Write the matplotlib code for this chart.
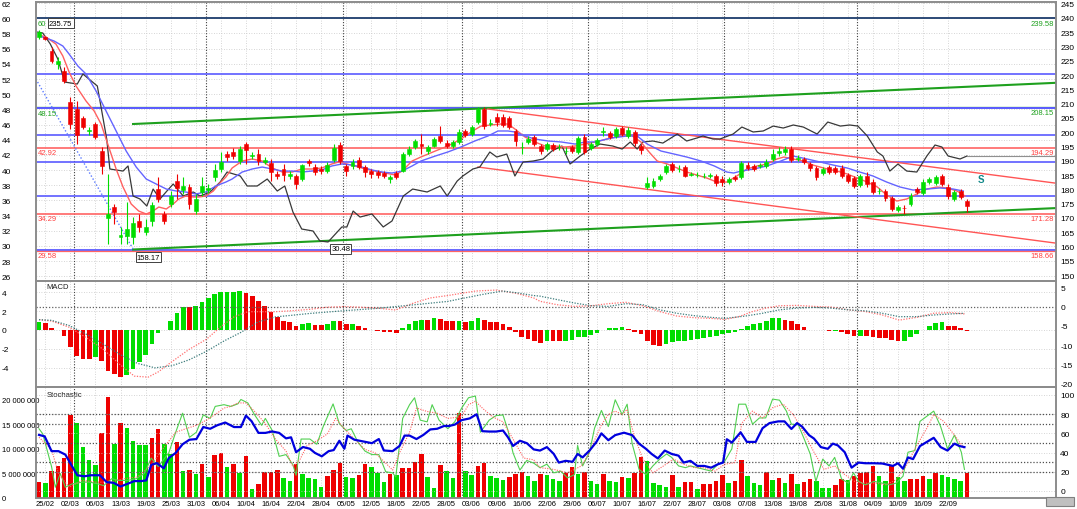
import matplotlib
matplotlib.use('Agg')
import matplotlib.pyplot as plt
import numpy as np

plt.rcParams['font.family'] = ['Liberation Sans', 'DejaVu Sans']

# ---- price candles (left axis units) ----
opens = [57.54, 57.54, 55.69, 53.98, 53.05, 48.97, 48.05, 46.86, 45.15, 46.07,
         42.51, 33.68, 35.13, 31.18, 31.31, 31.18, 33.29, 31.84, 33.29, 37.50,
         34.21, 35.53, 38.56, 37.37, 37.77, 34.60, 37.11, 37.37, 39.08, 40.14,
         42.11, 42.38, 41.19, 43.43, 41.90, 42.11, 41.06, 40.93, 39.48, 40.14,
         39.22, 39.22, 38.82, 41.19, 40.40, 40.14, 39.87, 41.33, 43.30, 40.54,
         40.54, 41.33, 40.40, 39.87, 39.74, 39.61, 38.82, 39.61, 39.87, 42.11,
         43.04, 43.43, 42.51, 43.17, 44.49, 43.56, 43.17, 43.70, 45.15, 44.75,
         46.33, 48.05, 46.10, 46.99, 46.99, 46.86, 45.15, 43.00, 43.70, 44.36,
         43.17, 42.77, 43.30, 43.00, 42.45, 43.04, 42.38, 44.36, 42.91, 43.43,
         45.00, 44.88, 44.49, 45.54, 44.49, 45.02, 43.17, 37.77, 37.90, 38.82,
         39.74, 40.80, 40.10, 40.40, 39.40, 39.30, 39.17, 39.20, 39.22, 38.82,
         38.42, 39.08, 39.08, 40.67, 40.54, 40.54, 40.54, 41.46, 42.25, 42.38,
         42.77, 41.50, 41.46, 40.80, 40.27, 39.61, 40.40, 40.27, 40.27, 39.35,
         38.95, 38.03, 39.22, 38.42, 37.20, 37.24, 36.32, 34.74, 35.05, 35.53,
         37.50, 36.98, 38.42, 38.29, 39.22, 37.77, 36.19, 37.24, 35.92]
highs = [58.46, 57.70, 56.22, 54.90, 53.58, 49.63, 49.10, 47.10, 45.67, 46.40,
         43.04, 39.48, 35.53, 32.50, 35.79, 33.81, 34.21, 33.55, 35.79, 39.08,
         34.60, 37.24, 39.48, 39.08, 38.16, 36.85, 39.08, 38.20, 40.80, 42.38,
         42.51, 42.90, 43.17, 43.70, 42.38, 42.77, 41.70, 41.46, 39.87, 40.80,
         39.87, 39.48, 40.80, 41.46, 40.80, 40.50, 41.00, 43.43, 43.70, 40.80,
         41.40, 41.72, 40.67, 40.10, 40.00, 39.90, 39.35, 39.90, 42.38, 43.17,
         44.09, 44.75, 43.30, 44.36, 45.80, 43.90, 44.00, 45.41, 45.41, 45.94,
         48.31, 48.31, 46.73, 47.52, 47.40, 47.10, 45.41, 43.70, 44.49, 44.60,
         43.43, 43.70, 43.60, 43.40, 43.00, 43.30, 44.49, 44.75, 43.70, 44.20,
         45.67, 45.10, 45.70, 45.80, 45.67, 45.28, 43.43, 39.08, 38.90, 39.50,
         40.80, 41.06, 40.67, 40.67, 39.80, 39.70, 39.60, 39.60, 39.48, 39.22,
         39.10, 39.35, 41.19, 41.06, 40.80, 40.90, 41.46, 42.77, 43.04, 43.17,
         43.17, 42.00, 41.70, 41.06, 40.54, 40.40, 40.67, 40.54, 40.67, 39.60,
         39.22, 39.48, 39.74, 38.82, 37.64, 37.50, 36.58, 35.40, 35.39, 36.98,
         37.80, 38.82, 39.10, 39.35, 39.50, 38.16, 37.40, 37.50, 36.19]
lows = [57.27, 57.10, 54.11, 53.32, 51.47, 45.41, 43.43, 45.41, 44.62, 44.10,
        39.48, 30.25, 32.89, 30.25, 30.25, 30.25, 31.84, 31.44, 32.63, 35.79,
        32.89, 35.13, 36.19, 36.85, 34.87, 34.21, 36.58, 37.00, 38.56, 39.74,
        41.19, 41.50, 40.80, 40.80, 41.46, 40.67, 40.80, 38.56, 38.82, 38.56,
        38.82, 37.50, 38.56, 40.54, 39.40, 39.50, 39.60, 41.06, 40.80, 39.22,
        40.20, 40.14, 39.08, 39.00, 39.00, 38.90, 38.29, 38.80, 39.74, 41.85,
        42.77, 42.11, 42.11, 43.04, 43.56, 42.90, 42.90, 43.43, 44.36, 44.49,
        46.07, 45.41, 45.80, 45.80, 45.70, 45.40, 43.17, 42.11, 43.43, 43.20,
        42.11, 42.50, 42.50, 42.70, 42.10, 42.20, 42.11, 42.11, 42.60, 43.20,
        44.49, 44.10, 44.20, 44.49, 44.22, 43.17, 42.11, 37.50, 37.60, 38.60,
        39.48, 39.74, 39.74, 39.08, 39.20, 39.10, 38.90, 38.90, 37.90, 37.90,
        38.20, 38.60, 38.82, 40.01, 39.90, 40.30, 40.27, 41.19, 41.85, 41.98,
        41.06, 41.20, 40.80, 39.87, 38.69, 39.35, 39.48, 39.48, 38.95, 38.30,
        37.64, 37.77, 37.77, 36.85, 36.85, 35.92, 34.60, 34.50, 34.21, 35.26,
        36.80, 36.71, 38.20, 38.00, 37.90, 36.19, 35.90, 36.19, 34.47]
closes = [58.19, 57.27, 54.37, 54.37, 51.74, 46.07, 44.62, 45.67, 45.28, 44.36,
          40.54, 34.21, 34.47, 31.44, 32.23, 33.02, 32.50, 32.50, 35.39, 36.19,
          33.29, 36.58, 37.64, 37.90, 35.53, 36.19, 37.90, 37.60, 40.01, 41.06,
          41.72, 41.85, 42.77, 42.64, 42.00, 41.19, 41.33, 39.74, 39.22, 39.35,
          39.48, 38.16, 40.67, 40.93, 39.74, 39.87, 40.67, 42.91, 41.19, 39.87,
          41.06, 40.40, 39.74, 39.48, 39.35, 39.22, 39.08, 39.08, 42.11, 42.77,
          43.83, 43.17, 43.04, 44.09, 43.83, 43.17, 43.70, 45.02, 44.62, 45.67,
          48.05, 45.80, 46.20, 46.33, 45.94, 45.67, 43.83, 43.10, 44.09, 43.43,
          42.51, 43.43, 42.77, 43.10, 42.55, 42.51, 44.22, 42.38, 43.43, 43.96,
          45.10, 44.36, 45.41, 44.75, 45.28, 43.56, 42.64, 38.29, 38.56, 39.22,
          40.54, 40.01, 40.20, 39.22, 39.50, 39.40, 39.27, 39.30, 38.29, 38.42,
          38.82, 38.82, 40.93, 40.27, 40.14, 40.67, 41.06, 42.11, 42.51, 42.77,
          41.33, 41.60, 41.06, 40.27, 39.08, 40.14, 39.74, 39.74, 39.22, 38.56,
          37.90, 39.22, 38.16, 37.11, 37.30, 36.32, 34.87, 35.13, 34.95, 36.58,
          37.11, 38.42, 38.82, 39.08, 38.16, 36.58, 37.11, 36.45, 35.26]

# moving averages and comparison line (bar position, left-axis value)
ma_fast = [(0, 57.80), (1.1, 57.54), (2.7, 56.61), (3.8, 55.03), (4.8, 52.92), (5.9, 51.08),
           (7.5, 49.10), (8.8, 47.78), (9.9, 46.07), (10.8, 43.83), (11.5, 42.11), (12.3, 40.14),
           (13.4, 37.77), (14.7, 35.53), (15.9, 34.60), (17.1, 34.21), (18.2, 34.60), (19.1, 35.13),
           (20.3, 34.87), (21.4, 35.53), (22.3, 36.19), (23.4, 36.58), (24.6, 36.45), (25.5, 36.45),
           (26.6, 36.58), (27.8, 37.24), (28.7, 38.16), (29.8, 39.08), (30.8, 40.27), (32.4, 41.19),
           (34.0, 41.46), (35.6, 41.19), (37.2, 40.27), (38.8, 39.74), (40.4, 39.74), (41.9, 40.14),
           (43.5, 40.14), (45.1, 40.27), (46.7, 40.80), (47.8, 41.06), (49.1, 40.80), (50.4, 40.54),
           (52.0, 40.14), (53.6, 39.87), (55.2, 39.61), (56.8, 39.35), (57.9, 39.87), (59.5, 41.19),
           (60.9, 41.72), (63.2, 42.51), (65.2, 43.17), (67.3, 44.09), (68.9, 45.02), (70.5, 45.80),
           (72.1, 45.94), (73.7, 46.07), (74.8, 46.07), (75.9, 45.41), (77.5, 44.36), (79.1, 43.70),
           (80.7, 43.17), (82.3, 43.17), (83.9, 43.04), (85.5, 43.17), (87.1, 43.43), (88.7, 43.70),
           (90.6, 44.09), (92.8, 44.49), (94.4, 44.62), (96.0, 43.70), (97.3, 42.38), (98.6, 41.19),
           (100.2, 40.80), (101.8, 40.27), (103.3, 39.74), (104.9, 39.35), (106.5, 38.95), (108.1, 38.42),
           (109.7, 38.42), (111.3, 39.22), (112.9, 40.14), (114.5, 40.54), (116.1, 40.80), (117.7, 41.46),
           (118.8, 41.72), (120.3, 41.46), (121.9, 41.19), (123.4, 40.67), (125.7, 40.14), (127.3, 39.87),
           (128.9, 39.48), (130.5, 38.95), (132.1, 38.42), (133.7, 37.77), (135.2, 36.71), (136.8, 35.92),
           (138.4, 36.19), (140.0, 36.85), (141.6, 37.50), (143.2, 37.77), (144.8, 37.64), (146.4, 37.24),
           (147.7, 36.58)]
ma_slow = [(0, 57.67), (1.1, 57.40), (2.4, 57.01), (3.8, 56.35), (4.8, 55.29), (6.2, 53.71),
           (7.5, 52.66), (9.1, 50.42), (10.7, 47.78), (12.3, 45.15), (13.9, 42.51), (15.5, 40.40),
           (17.1, 38.82), (18.7, 38.16), (20.3, 37.50), (21.9, 37.24), (23.4, 37.11), (25.0, 36.85),
           (26.6, 37.11), (28.2, 37.90), (29.8, 38.42), (30.8, 38.82), (32.4, 39.74), (34.0, 40.14),
           (35.6, 40.40), (37.2, 40.14), (38.8, 39.87), (40.4, 39.87), (41.9, 39.74), (43.5, 39.87),
           (45.1, 40.01), (46.7, 40.54), (48.3, 40.80), (49.9, 40.67), (51.5, 40.40), (53.1, 40.01),
           (54.7, 39.74), (56.3, 39.61), (57.9, 39.87), (59.5, 40.54), (60.9, 41.19), (63.2, 41.85),
           (65.2, 42.38), (67.3, 43.04), (69.5, 43.83), (71.6, 44.49), (73.2, 45.15), (74.8, 45.15),
           (75.9, 45.02), (77.5, 44.49), (79.1, 44.09), (81.2, 43.83), (83.3, 43.70), (85.5, 43.43),
           (87.1, 43.70), (88.7, 43.70), (91.2, 44.22), (93.8, 44.49), (95.4, 44.49), (97.0, 43.43),
           (99.2, 42.51), (101.3, 42.11), (103.3, 41.72), (105.6, 41.19), (107.7, 40.54), (109.7, 39.74),
           (110.8, 39.61), (112.0, 39.87), (114.0, 40.14), (116.1, 40.54), (118.3, 41.19), (120.3, 41.85),
           (122.5, 41.46), (124.6, 41.06), (126.6, 40.67), (128.9, 40.27), (130.9, 39.74), (133.0, 39.22),
           (135.2, 38.42), (137.3, 37.77), (139.4, 37.37), (141.6, 37.50), (143.7, 37.64), (145.8, 37.50),
           (147.4, 37.24)]
compare_line = [(-0.2, 58.19), (0.6, 58.06), (1.8, 56.61), (3.0, 54.64), (4.1, 51.60), (6.1, 51.34),
                (7.0, 52.66), (9.3, 51.08), (10.8, 44.09), (11.3, 40.14), (13.4, 39.87), (14.2, 40.54),
                (15.0, 36.58), (16.1, 36.19), (17.2, 35.26), (18.2, 37.50), (19.3, 36.19), (20.4, 37.24),
                (21.4, 38.16), (23.0, 36.58), (24.6, 37.11), (25.7, 36.58), (27.3, 37.11), (28.9, 38.43),
                (30.0, 39.74), (32.1, 39.22), (33.2, 37.90), (34.8, 37.90), (36.4, 38.82), (38.0, 37.24),
                (39.2, 37.90), (40.5, 34.47), (41.9, 32.23), (43.7, 31.97), (44.8, 30.65), (46.1, 30.52),
                (48.3, 32.50), (49.1, 32.50), (50.1, 34.60), (51.2, 33.81), (53.1, 34.21), (54.9, 32.50),
                (56.3, 33.29), (58.1, 36.58), (59.6, 37.50), (61.9, 37.11), (64.0, 37.90), (65.1, 36.58),
                (66.7, 38.56), (67.6, 39.22), (69.2, 40.14), (70.3, 40.40), (71.9, 42.38), (73.0, 41.72),
                (74.6, 42.11), (75.9, 39.22), (77.2, 41.06), (78.8, 41.19), (80.4, 41.46), (81.8, 42.51),
                (83.4, 43.17), (84.7, 40.80), (86.3, 41.85), (87.9, 42.77), (89.5, 43.43), (91.5, 43.17),
                (93.0, 42.77), (94.3, 43.70), (95.4, 42.77), (96.3, 43.70), (97.9, 43.83), (99.5, 43.56),
                (101.8, 44.75), (103.3, 43.83), (104.9, 44.22), (105.9, 44.49), (107.5, 44.09), (108.6, 44.09),
                (110.7, 44.75), (112.1, 45.67), (113.9, 45.02), (115.5, 45.15), (117.1, 45.80), (118.7, 45.54),
                (120.3, 45.94), (121.9, 45.67), (124.1, 44.75), (125.8, 46.33), (127.8, 45.80), (129.3, 45.94),
                (130.6, 45.80), (132.1, 44.49), (133.7, 42.38), (134.6, 41.85), (135.7, 39.87), (137.0, 40.80),
                (138.4, 39.87), (140.0, 39.74), (141.6, 41.85), (142.9, 43.30), (144.0, 43.04), (145.0, 41.85),
                (146.9, 41.46), (148.0, 41.85)]

# horizontal levels and trend lines
blue_levels = [52.70, 44.62, 41.06, 36.54]
red_levels = [42.88, 34.20]
top_level = 59.98
green_level = 48.17
bottom_level = 29.40
green_trends = [((15.0, 46.07), (162.2, 51.50)), ((15.0, 29.53), (162.2, 34.99))]
red_trends = [((71.6, 48.05), (162.2, 38.27)), ((70.0, 40.40), (162.2, 30.37))]
blue_dotted = ((-0.5, 52.00), (15.0, 29.60))

# ---- MACD ----
macd_hist = [0.84, 0.73, 0.25, 0.0, -0.62, -1.82, -2.73, -3.02, -3.02, -2.91,
             -3.27, -4.36, -4.62, -5.02, -4.73, -4.11, -3.38, -2.65, -1.45, -0.36,
             0.0, 0.91, 1.82, 2.44, 2.44, 2.55, 2.91, 3.38, 3.82, 4.0,
             4.0, 4.04, 4.07, 3.93, 3.56, 3.09, 2.55, 1.89, 1.35, 0.98,
             0.8, 0.44, 0.62, 0.73, 0.55, 0.55, 0.62, 0.98, 0.91, 0.62,
             0.62, 0.44, 0.18, 0.0, -0.07, -0.18, -0.25, -0.36, 0.18, 0.62,
             0.98, 1.02, 1.09, 1.24, 1.16, 0.91, 0.91, 0.91, 0.84, 0.91,
             1.27, 1.02, 0.84, 0.84, 0.65, 0.36, -0.18, -0.73, -0.91, -1.2,
             -1.38, -1.2, -1.2, -1.2, -1.2, -1.09, -0.72, -0.72, -0.55, -0.36,
             0.05, 0.18, 0.25, 0.3, 0.1, -0.25, -0.45, -1.2, -1.63, -1.74,
             -1.45, -1.27, -1.16, -1.16, -1.09, -0.98, -0.83, -0.72, -0.62, -0.47,
             -0.36, -0.18, 0.11, 0.43, 0.62, 0.72, 0.98, 1.27, 1.27, 1.09,
             0.91, 0.65, 0.36, 0.0, 0.0, -0.05, -0.1, -0.1, -0.25, -0.47,
             -0.65, -0.65, -0.65, -0.72, -0.8, -0.83, -1.09, -1.2, -1.2, -0.72,
             -0.47, 0.05, 0.43, 0.72, 0.8, 0.43, 0.43, 0.18, -0.1]
macd_colors = ("GRRRRRRRRG" "RRRRGGGGGG" "GGGGRGGGGG" "GGGRRRRRRR" "RRGGRRGGRR"
               "GRRRRRRRGG" "GGRGRRRGRG" "GRRRRRRRRR" "RGRRGGGGGG" "GGGGRRRRRR"
               "GGGGGGGGGG" "GGGGGGGGGR" "RRRRRGRGRR" "RGRRRRRRGG" "GGGGGRRRR")
macd_line = [(0.0, -3.35), (2.0, -3.71), (4.8, -5.32), (7.5, -8.01), (10.3, -11.15), (13.0, -15.19),
             (15.2, -18.07), (17.4, -18.34), (19.0, -16.99), (21.2, -14.30), (23.9, -11.15), (26.7, -8.46),
             (28.9, -5.32), (31.1, -2.63), (33.3, -1.28), (35.5, -1.28), (37.7, -1.28), (40.5, -1.01),
             (43.2, -0.65), (45.9, -0.11), (48.7, 0.07), (51.4, -0.11), (54.2, -0.38), (56.9, -0.83),
             (59.7, 0.96), (62.4, 2.31), (65.2, 2.94), (69.6, 4.11), (72.9, 4.37), (76.2, 3.48),
             (78.9, 2.31), (79.9, 1.44), (82.6, 0.55), (85.4, 0.10), (88.1, 0.28), (90.8, 0.82),
             (93.6, 1.18), (96.3, 0.28), (99.0, -1.24), (101.7, -2.40), (104.5, -2.84), (107.2, -3.02),
             (109.4, -3.29), (111.6, -2.57), (113.8, -1.24), (115.9, -0.34), (118.1, 0.28), (120.9, 0.37),
             (123.6, 0.10), (126.3, -0.07), (129.1, -0.79), (131.8, -1.24), (134.5, -2.13), (137.2, -3.47),
             (140.0, -2.75), (142.7, -1.68), (145.4, -1.50), (147.6, -1.86)]
signal_line = [(0.0, -3.35), (2.0, -3.53), (4.8, -4.87), (7.5, -7.12), (10.3, -9.81), (13.0, -12.50),
               (15.7, -14.75), (18.5, -15.91), (21.2, -15.37), (23.9, -13.85), (26.7, -11.60), (29.5, -8.91),
               (32.2, -6.67), (34.9, -3.97), (37.7, -2.63), (40.5, -2.18), (43.2, -1.73), (48.7, -1.01),
               (54.2, -0.38), (56.9, 0.07), (59.7, 0.51), (65.2, 1.41), (67.9, 2.31), (70.7, 3.21),
               (73.9, 4.11), (76.2, 3.66), (78.9, 2.94), (79.9, 2.78), (82.6, 1.89), (85.4, 0.99),
               (88.1, 0.28), (90.8, 0.10), (93.6, 0.82), (96.3, 0.55), (99.0, -0.79), (101.7, -1.68),
               (104.5, -2.31), (107.2, -2.75), (109.4, -3.02), (112.7, -2.40), (115.4, -1.68), (118.1, -0.79),
               (120.9, -0.34), (123.6, -0.16), (126.3, -0.34), (129.1, -0.79), (131.8, -1.06), (134.5, -1.68),
               (137.2, -2.57), (140.0, -2.57), (142.7, -2.13), (145.4, -1.86), (147.6, -1.68)]

# ---- volume (millions) and stochastic ----
volume = [3.3, 3.0, 5.4, 6.4, 8.2, 16.8, 15.2, 10.4, 7.8, 6.6,
          13.2, 20.4, 11.0, 15.2, 14.3, 11.5, 10.8, 10.7, 12.2, 14.0,
          10.9, 9.0, 11.4, 5.5, 5.6, 4.8, 7.0, 4.2, 8.8, 9.2,
          6.2, 6.8, 5.0, 8.5, 1.8, 2.9, 5.2, 5.3, 5.7, 4.0,
          3.5, 6.8, 4.8, 4.1, 3.8, 2.3, 4.4, 5.7, 7.2, 4.3,
          4.0, 4.6, 6.8, 6.3, 5.0, 3.3, 4.9, 4.7, 6.0, 6.0,
          7.4, 9.0, 4.3, 2.1, 6.6, 5.5, 4.1, 17.2, 5.5, 4.6,
          6.5, 7.1, 4.5, 4.1, 3.7, 4.2, 4.8, 5.3, 4.4, 3.5,
          4.8, 4.6, 3.9, 3.4, 5.0, 6.2, 4.8, 5.3, 3.5, 2.8,
          4.8, 3.5, 3.2, 4.2, 4.0, 5.1, 8.4, 7.5, 3.0, 2.6,
          2.3, 4.6, 2.3, 3.2, 3.2, 1.8, 2.8, 2.9, 3.4, 4.6,
          3.0, 3.4, 7.7, 4.4, 3.0, 2.6, 5.3, 3.7, 4.0, 3.1,
          4.8, 2.9, 3.3, 3.9, 3.4, 2.1, 2.1, 2.7, 3.9, 3.6,
          4.4, 5.0, 5.3, 6.4, 4.4, 3.5, 6.5, 4.3, 3.4, 3.9,
          3.9, 4.4, 3.9, 5.1, 4.6, 4.3, 3.9, 3.4, 5.1]
volume_colors = ("RGRRRRGGGG" "RRGRGGGGRR" "GGRGRGRGRR" "GRGRGRRRRG" "GRGGGGRRRG"
                 "GRRGGGRGRR" "RRGGRGGRGG" "RRGGGRRRGG" "RGGGRRGRGG" "RGGRGRRGGG"
                 "GRGRRGRRRR" "GRRGGGRGRG" "RGRRGGGRRG" "RRRRGGRGGR" "RRGRGGGGR")
stoch_slow = [(0.0, 58.4), (0.9, 56.9), (2.0, 41.5), (3.1, 41.5), (4.2, 37.9), (5.3, 25.4), (6.1, 16.4),
              (7.2, 15.3), (8.3, 16.4), (9.7, 16.4), (10.8, 9.2), (11.9, 8.5), (13.0, 4.6), (14.1, 7.4),
              (15.2, 10.3), (16.3, 10.3), (17.1, 11.0), (17.9, 27.2), (18.8, 29.0), (19.9, 23.6), (20.7, 34.3),
              (21.8, 39.7), (22.9, 48.7), (24.0, 53.4), (25.1, 54.1), (26.2, 66.6), (27.3, 64.8), (28.4, 68.4),
              (29.7, 71.3), (31.1, 66.6), (32.2, 66.6), (33.0, 78.5), (33.9, 72.7), (35.0, 60.5), (36.1, 60.5),
              (37.2, 62.0), (38.3, 60.5), (39.4, 54.8), (40.2, 55.9), (41.0, 40.4), (42.1, 45.8), (43.2, 44.0),
              (44.0, 39.7), (45.1, 36.1), (46.2, 41.5), (47.0, 42.6), (47.9, 52.3), (48.7, 44.0), (49.2, 57.7),
              (50.3, 53.4), (52.0, 51.2), (53.1, 49.8), (54.2, 54.1), (55.0, 42.2), (56.4, 41.5), (57.5, 46.9),
              (58.3, 57.7), (59.1, 57.7), (60.2, 54.1), (61.3, 58.4), (62.4, 64.1), (63.5, 64.8), (64.6, 67.7),
              (65.4, 67.7), (66.3, 69.1), (67.4, 73.8), (68.7, 75.6), (69.8, 79.9), (70.7, 62.3), (71.8, 61.9),
              (72.9, 61.9), (74.0, 63.0), (74.8, 55.9), (75.6, 46.9), (76.7, 52.3), (77.8, 49.8), (78.9, 43.3),
              (79.9, 42.1), (81.0, 45.7), (82.1, 38.6), (82.9, 29.6), (84.0, 31.4), (85.1, 30.4), (85.9, 38.6),
              (86.7, 35.0), (87.8, 42.1), (88.9, 51.1), (89.7, 60.0), (90.8, 52.9), (91.9, 58.2), (93.3, 60.7),
              (94.6, 58.2), (95.7, 49.3), (96.8, 43.9), (97.7, 38.6), (98.7, 33.9), (99.8, 42.1), (100.9, 38.6),
              (102.0, 36.8), (102.8, 29.6), (103.9, 31.4), (105.0, 26.1), (106.1, 26.1), (107.2, 24.3),
              (108.3, 27.9), (109.1, 29.6), (109.7, 53.9), (110.5, 50.4), (111.9, 61.1), (112.9, 51.1),
              (114.3, 51.1), (115.4, 65.4), (116.5, 70.7), (117.9, 72.5), (118.9, 72.5), (120.0, 64.6),
              (120.9, 70.7), (121.7, 67.1), (122.8, 58.2), (123.6, 54.6), (124.7, 45.7), (125.8, 43.9),
              (126.6, 49.3), (127.4, 47.5), (128.5, 40.4), (129.6, 24.3), (130.7, 29.6), (131.8, 28.9),
              (133.1, 28.9), (134.5, 28.6), (136.2, 26.1), (137.0, 28.9), (137.8, 23.2), (138.6, 35.0),
              (139.4, 33.2), (140.5, 46.8), (141.6, 51.1), (142.7, 55.4), (143.8, 45.7), (144.9, 42.1),
              (146.0, 49.3), (146.8, 46.8), (147.6, 45.7)]
stoch_k = [(0.0, 64.8), (0.6, 59.5), (2.0, 25.4), (2.6, 3.9), (3.4, 18.2), (4.2, 3.9), (5.3, 7.4), (6.9, 9.2),
           (8.1, 9.2), (9.4, 7.4), (10.3, 5.6), (11.6, 12.8), (12.7, 11.0), (14.1, 11.0), (15.5, 12.8),
           (16.8, 18.2), (17.9, 34.3), (19.0, 25.4), (20.7, 39.7), (21.8, 61.2), (22.9, 81.0), (24.0, 55.9),
           (25.1, 61.2), (26.2, 79.2), (27.3, 75.6), (28.1, 88.1), (29.5, 89.9), (30.6, 88.1), (31.7, 90.7),
           (32.2, 95.3), (33.3, 91.7), (34.4, 79.2), (35.5, 68.4), (36.1, 75.6), (37.2, 63.0), (38.3, 36.1),
           (39.4, 37.9), (40.5, 27.2), (41.0, 16.4), (41.8, 54.1), (43.2, 54.1), (44.3, 48.7), (45.4, 68.4),
           (46.9, 90.7), (47.9, 70.2), (49.0, 63.0), (49.8, 64.8), (50.9, 50.5), (52.0, 41.5), (53.1, 37.9),
           (54.2, 37.9), (55.3, 20.0), (56.4, 18.9), (56.9, 14.6), (58.0, 75.6), (59.1, 89.9), (59.9, 97.1),
           (60.8, 73.8), (61.9, 72.0), (62.7, 89.9), (63.8, 73.8), (65.2, 64.8), (66.3, 72.0), (67.4, 86.3),
           (68.5, 97.1), (69.6, 98.9), (70.4, 61.2), (71.8, 73.8), (72.9, 78.5), (74.0, 79.2), (74.8, 63.0),
           (75.6, 39.7), (76.7, 21.8), (77.8, 31.8), (78.9, 29.0), (79.9, 24.3), (81.0, 27.9), (82.1, 18.9),
           (83.2, 20.7), (84.3, 13.6), (85.4, 17.1), (85.9, 47.5), (86.7, 26.1), (87.8, 40.4), (88.6, 65.4),
           (89.7, 83.9), (90.8, 67.1), (91.9, 95.0), (93.0, 79.6), (93.8, 90.4), (94.6, 49.3), (95.7, 22.5),
           (96.8, 17.1), (97.9, 26.1), (99.0, 33.2), (100.1, 38.6), (100.9, 35.0), (102.0, 26.1), (103.1, 24.3),
           (103.9, 26.1), (105.0, 24.3), (106.1, 22.5), (107.2, 20.7), (108.3, 27.9), (109.4, 31.4),
           (110.5, 43.9), (111.6, 90.4), (112.7, 90.4), (113.8, 69.6), (114.9, 76.1), (115.9, 76.1),
           (117.0, 95.7), (118.1, 94.6), (119.2, 83.2), (120.0, 69.6), (121.1, 68.9), (121.9, 56.4),
           (123.0, 38.6), (123.9, 10.0), (125.0, 33.2), (126.0, 26.1), (126.9, 35.0), (128.0, 12.5),
           (129.1, 8.2), (129.9, 18.9), (130.7, 10.0), (131.8, 6.4), (133.2, 10.0), (134.5, 8.2), (135.6, 6.4),
           (136.7, 8.2), (137.8, 15.4), (138.6, 40.4), (139.7, 42.1), (140.5, 72.5), (141.6, 77.9),
           (142.7, 83.2), (143.8, 67.1), (144.9, 43.9), (146.0, 58.2), (147.1, 40.4), (147.6, 22.5)]
stoch_d = [(0.0, 55.9), (2.0, 43.3), (3.1, 18.2), (4.8, 3.9), (6.9, 11.0), (9.2, 9.2), (11.4, 9.2), (13.5, 12.8),
           (15.7, 14.6), (17.9, 27.2), (20.1, 46.9), (21.8, 61.2), (23.4, 64.8), (25.1, 68.4), (26.7, 73.8),
           (28.4, 81.0), (29.5, 86.4), (30.6, 88.1), (31.7, 91.7), (33.0, 91.7), (34.4, 82.8), (36.1, 70.2),
           (37.7, 54.1), (39.4, 41.5), (40.5, 25.4), (41.6, 32.5), (42.7, 46.9), (44.3, 52.3), (46.0, 59.5),
           (47.3, 75.6), (48.7, 64.8), (50.3, 54.1), (52.0, 43.3), (53.6, 39.7), (55.3, 29.0), (56.4, 21.8),
           (57.5, 39.7), (59.1, 61.2), (60.2, 86.4), (61.9, 82.8), (63.5, 81.0), (65.2, 75.6), (67.4, 77.4),
           (68.5, 89.9), (69.6, 93.5), (70.7, 86.4), (72.3, 77.4), (74.0, 72.0), (75.6, 54.1), (77.3, 34.3),
           (78.9, 32.5), (79.9, 24.3), (82.1, 22.5), (84.3, 18.9), (85.4, 22.5), (86.5, 26.1), (87.5, 36.8),
           (88.6, 52.9), (89.7, 68.9), (90.8, 79.6), (91.9, 83.2), (93.0, 79.6), (93.8, 85.0), (94.9, 58.2),
           (96.3, 33.2), (97.9, 18.9), (99.6, 26.1), (101.2, 33.2), (102.8, 27.9), (104.5, 24.3), (106.1, 24.3),
           (107.8, 20.7), (109.4, 27.9), (111.0, 29.6), (112.1, 70.7), (113.8, 83.2), (115.4, 76.1),
           (117.0, 86.8), (118.7, 90.4), (120.3, 79.6), (121.9, 61.8), (123.6, 40.4), (125.2, 22.5),
           (126.9, 26.1), (128.5, 17.1), (130.1, 10.0), (131.8, 8.2), (133.4, 8.2), (135.1, 6.4), (136.7, 11.8),
           (138.3, 26.1), (140.0, 47.5), (141.6, 65.4), (142.7, 79.6), (144.3, 72.5), (146.0, 58.2),
           (147.6, 43.9)]

dates = ['25/02', '02/03', '06/03', '13/03', '19/03', '25/03', '31/03', '06/04', '10/04', '16/04',
         '22/04', '28/04', '05/05', '12/05', '18/05', '22/05', '28/05', '03/06', '09/06', '16/06',
         '22/06', '29/06', '06/07', '10/07', '16/07', '22/07', '28/07', '03/08', '07/08', '13/08',
         '19/08', '25/08', '31/08', '04/09', '10/09', '16/09', '22/09']
month_starts = [5.6, 26.6, 48.5, 67.5, 87.6, 109.2, 130.5]

GREEN = '#00dd00'
RED = '#ee0000'
GRID = '#c8c8c8'
SPINE = '#8c8c8c'

W, H = 1077, 510
fig = plt.figure(figsize=(W / 100, H / 100), dpi=100)


def rect(top, bottom):
    return [36 / W, 1 - bottom / H, (1056 - 36) / W, (bottom - top) / H]


ax1 = fig.add_axes(rect(3, 282))
ax2 = fig.add_axes(rect(282, 388), sharex=ax1)
ax3 = fig.add_axes(rect(388, 499), sharex=ax1)
ax1r = ax1.twinx()
ax2r = ax2.twinx()
ax3r = ax3.twinx()

ax1.set_xlim(-0.48, 162.2)
ax1.set_ylim(25.38, 62.15)
ax1r.set_ylim(147.91, 245.60)
ax2.set_ylim(-6.03, 5.18)
ax2r.set_ylim(-20.91, 6.73)
ax3.set_ylim(0.06e6, 22.53e6)
ax3r.set_ylim(-7.3, 108.3)

x = np.arange(len(closes))
date_pos = [1 + 4 * k for k in range(len(dates))]

for ax in (ax1, ax2, ax3, ax1r, ax2r, ax3r):
    for s in ax.spines.values():
        s.set_color(SPINE)
        s.set_linewidth(1.2)
    ax.tick_params(axis='x', length=0)
for ax in (ax1, ax2):
    ax.tick_params(axis='x', labelbottom=False)

for ax in (ax1, ax2, ax3):
    for p in date_pos:
        ax.axvline(p, color=GRID, lw=0.6, ls=(0, (1, 2)), zorder=0)
    for p in month_starts:
        ax.axvline(p, color='#404040', lw=0.8, ls=(0, (1, 1.5)), zorder=1)

# ---- top panel ----
left_ticks = list(range(26, 63, 2))
for t in left_ticks:
    ax1.axhline(t, color=GRID, lw=0.6, ls=(0, (1, 2)), zorder=0)
ax1.set_yticks(left_ticks)
ax1.set_yticklabels([str(t) for t in left_ticks], fontsize=6, ha='left')
ax1.tick_params(axis='y', length=0, pad=24.5)
right_ticks = list(range(150, 246, 5))
ax1r.set_yticks(right_ticks)
ax1r.set_yticklabels([str(t) for t in right_ticks], fontsize=6)
ax1r.tick_params(axis='y', length=0, pad=3)

ax1.axhline(top_level, color='#1c3c6c', lw=1.3, zorder=2)
for lv in blue_levels:
    ax1.axhline(lv, color='#5a5aff', lw=1.2, zorder=2)
for lv in red_levels:
    ax1.axhline(lv, color='#ff6464', lw=1.2, zorder=2)
ax1.axhline(green_level + 0.12, color='#60c060', lw=1.0, zorder=2)
ax1.axhline(green_level, color='#5a5aff', lw=1.4, zorder=2)
ax1.axhline(bottom_level + 0.1, color='#5a5aff', lw=1.3, zorder=2)
ax1.axhline(bottom_level - 0.1, color='#ff6464', lw=0.9, zorder=2)

for (x0, y0), (x1, y1) in green_trends:
    ax1.plot([x0, x1], [y0, y1], color='#1ea01e', lw=1.5, zorder=3)
for (x0, y0), (x1, y1) in red_trends:
    ax1.plot([x0, x1], [y0, y1], color='#ff5555', lw=1.0, zorder=3)
ax1.plot([blue_dotted[0][0], blue_dotted[1][0]], [blue_dotted[0][1], blue_dotted[1][1]],
         color='#5a7aff', lw=1.0, ls=(0, (1, 1.5)), zorder=3)

cx, cy = zip(*compare_line)
ax1.plot(cx, cy, color='#383838', lw=0.9, zorder=4)
ax1.plot([cx[-1], 162.2], [cy[-1], cy[-1]], color='#909090', lw=0.8, zorder=4)
fx, fy = zip(*ma_fast)
ax1.plot(fx, fy, color='#ff6060', lw=1.0, zorder=4)
sx, sy = zip(*ma_slow)
ax1.plot(sx, sy, color='#6464ff', lw=1.0, zorder=4)

o, hi, lo, c = map(np.array, (opens, highs, lows, closes))
ccol = np.where(c >= o, GREEN, RED)
ax1.vlines(x, lo, hi, colors=ccol, lw=0.8, zorder=5)
ax1.bar(x, np.maximum(np.abs(c - o), 0.08), bottom=np.minimum(o, c), width=0.62,
        color=ccol, edgecolor=ccol, lw=0.4, zorder=6)

lab = dict(fontsize=5.5, va='center', zorder=8)
box = dict(boxstyle='square,pad=0.15', fc='white', ec='#404040', lw=0.7)
ax1.text(-0.3, 59.38, '60', color='#1ea01e', ha='left', **lab)
ax1.text(1.6, 59.38, '235.75', color='black', ha='left', bbox=box, **lab)
ax1.text(-0.16, 47.52, '48.15', color='#1ea01e', ha='left', **lab)
ax1.text(-0.16, 42.25, '42.92', color='#ff4040', ha='left', **lab)
ax1.text(-0.16, 33.68, '34.29', color='#ff4040', ha='left', **lab)
ax1.text(-0.16, 28.80, '29.58', color='#ff4040', ha='left', **lab)
ax1.text(161.9, 59.38, '239.58', color='#1ea01e', ha='right', **lab)
ax1.text(161.9, 47.65, '208.15', color='#1ea01e', ha='right', **lab)
ax1.text(161.9, 42.25, '194.29', color='#ff4040', ha='right', **lab)
ax1.text(161.9, 33.68, '171.28', color='#ff4040', ha='right', **lab)
ax1.text(161.9, 28.80, '158.66', color='#ff4040', ha='right', **lab)
ax1.text(15.6, 28.54, '158.17', color='black', ha='left', bbox=box, **lab)
ax1.text(46.6, 29.60, '30.48', color='black', ha='left', bbox=box, **lab)
ax1.text(150.2, 38.82, 'S', color='#108888', fontsize=7, fontweight='bold',
         ha='center', va='center', zorder=8)

# ---- MACD panel ----
for t in [4, 2, 0, -2, -4]:
    ax2.axhline(t, color=GRID, lw=0.6, ls=(0, (1, 2)), zorder=0)
ax2r.axhline(0, color='#606060', lw=0.9, ls=(0, (1, 1.5)), zorder=1)
mcol = [GREEN if ch == 'G' else RED for ch in macd_colors]
ax2.bar(x, macd_hist, width=0.75, color=mcol, zorder=3)
mx, my = zip(*macd_line)
ax2r.plot(mx, my, color='#ff7070', lw=0.9, ls=(0, (1, 1.2)))
gx, gy = zip(*signal_line)
ax2r.plot(gx, gy, color='#3c7c7c', lw=0.9, ls=(0, (1, 1.2)))
ax2.set_yticks([4, 2, 0, -2, -4])
ax2.set_yticklabels(['4', '2', '0', '-2', '-4'], fontsize=6, ha='left')
ax2.tick_params(axis='y', length=0, pad=24.5)
ax2r.set_yticks([5, 0, -5, -10, -15, -20])
ax2r.set_yticklabels(['5', '0', '-5', '-10', '-15', '-20'], fontsize=6)
ax2r.tick_params(axis='y', length=0, pad=3)
ax2.text(1.2, 4.6, 'MACD', fontsize=5.5, color='#202020', ha='left', va='center')

# ---- stochastic / volume panel ----
for t in [0, 20, 40, 60, 80, 100]:
    ax3r.axhline(t, color=GRID, lw=0.6, ls=(0, (1, 2)), zorder=0)
for t in [20, 30, 50, 70, 80]:
    ax3r.axhline(t, color='#505050', lw=0.9, ls=(0, (1, 1.5)), zorder=0)
vcol = [GREEN if ch == 'G' else RED for ch in volume_colors]
ax3.bar(x, np.array(volume) * 1e6, width=0.72, color=vcol, zorder=3)
kx, ky = zip(*stoch_k)
ax3r.plot(kx, ky, color='#50d050', lw=0.8)
dx, dy = zip(*stoch_d)
ax3r.plot(dx, dy, color='#ff6060', lw=0.8, ls=(0, (1, 1.2)))
bx, by = zip(*stoch_slow)
ax3r.plot(bx, by, color='#0000dd', lw=1.6)
vt = [0, 5e6, 10e6, 15e6, 20e6]
ax3.set_yticks(vt)
ax3.set_yticklabels(['0', '5 000 000', '10 000 000', '15 000 000', '20 000 000'],
                    fontsize=5.5, ha='left')
ax3.tick_params(axis='y', length=0, pad=24.5)
ax3r.set_yticks([0, 20, 40, 60, 80, 100])
ax3r.set_yticklabels(['0', '20', '40', '60', '80', '100'], fontsize=6)
ax3r.tick_params(axis='y', length=0, pad=3)
ax3.set_xticks(date_pos)
ax3.set_xticklabels(dates, fontsize=5.5)
ax3.tick_params(axis='x', length=0, pad=1.5)
ax3r.tick_params(axis='x', length=0)
ax3.text(1.2, 21.0e6, 'Stochastic', fontsize=5.5, color='#202020', ha='left', va='center')

# small scroll button at bottom right
fig.patches.append(plt.Rectangle((1046 / W, 1 - 507 / H), 28 / W, 9 / H, transform=fig.transFigure,
                                 fc='#c0c0c0', ec='#808080', lw=0.8))

fig.savefig('out.png', dpi=100)
